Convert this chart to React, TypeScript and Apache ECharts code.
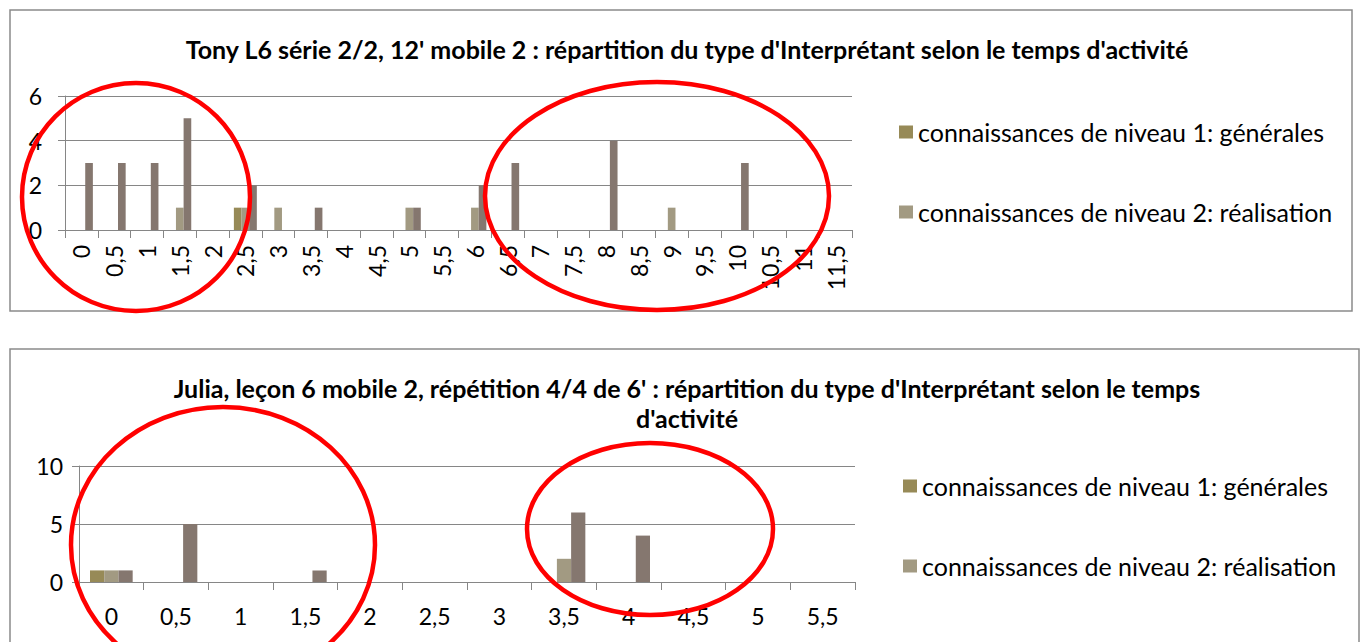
import React, { useEffect, useRef } from "react";
import * as echarts from "echarts";

const tonyCategories = ["0", "0,5", "1", "1,5", "2", "2,5", "3", "3,5", "4", "4,5", "5", "5,5", "6", "6,5", "7", "7,5", "8", "8,5", "9", "9,5", "10", "10,5", "11", "11,5"];
const tonyNiveau1 = [0, 0, 0, 0, 0, 1, 0, 0, 0, 0, 0, 0, 0, 0, 0, 0, 0, 0, 0, 0, 0, 0, 0, 0];
const tonyNiveau2 = [0, 0, 0, 1, 0, 1, 1, 0, 0, 0, 1, 0, 1, 0, 0, 0, 0, 0, 1, 0, 0, 0, 0, 0];
const tonyNiveau3 = [3, 3, 3, 5, 0, 2, 0, 1, 0, 0, 1, 0, 2, 3, 0, 0, 4, 0, 0, 0, 3, 0, 0, 0];

const juliaCategories = ["0", "0,5", "1", "1,5", "2", "2,5", "3", "3,5", "4", "4,5", "5", "5,5"];
const juliaNiveau1 = [1, 0, 0, 0, 0, 0, 0, 0, 0, 0, 0, 0];
const juliaNiveau2 = [1, 0, 0, 0, 0, 0, 0, 2, 0, 0, 0, 0];
const juliaNiveau3 = [1, 5, 0, 1, 0, 0, 0, 6, 4, 0, 0, 0];

const seriesNames = [
  "connaissances de niveau 1: générales",
  "connaissances de niveau 2: réalisation",
  "connaissances de niveau 3",
];
const seriesColors = ["#978A57", "#A29A82", "#85776F"];

const titleTony = "Tony L6 série 2/2, 12' mobile 2 : répartition du type d'Interprétant selon le temps d'activité";
const titleJulia = "Julia, leçon 6 mobile 2, répétition 4/4 de 6' : répartition du type d'Interprétant selon le temps\nd'activité";

const FONT = "Lato, 'Open Sans', sans-serif";
const GRAY = "#868686";

export default function App() {
  const ref = useRef<HTMLDivElement>(null);
  useEffect(() => {
    if (!ref.current) return;
    const chart = echarts.init(ref.current, null, { renderer: "svg" });
    const axisCommonX = (idx: number, cats: string[], rotate: number, margin: number) => ({
      type: "category",
      gridIndex: idx,
      data: cats,
      boundaryGap: true,
      axisLine: { show: true, lineStyle: { color: GRAY, width: 1 } },
      axisTick: { show: true, length: 8, lineStyle: { color: GRAY }, interval: 0 },
      axisLabel: { interval: 0, rotate, margin, color: "#000", fontSize: 23, fontFamily: FONT },
      splitLine: { show: false },
    });
    const axisCommonY = (idx: number, max: number, interval: number, margin: number) => ({
      type: "value",
      gridIndex: idx,
      min: 0,
      max,
      interval,
      axisLine: { show: true, lineStyle: { color: GRAY, width: 1 } },
      axisTick: { show: true, length: 7, lineStyle: { color: GRAY } },
      axisLabel: { margin, color: "#000", fontSize: 23, fontFamily: FONT },
      splitLine: { show: true, lineStyle: { color: GRAY, width: 1.2 } },
    });
    const mkSeries = (axisIdx: number, datas: number[][], gap: string) =>
      datas.map((d, i) => ({
        name: seriesNames[i],
        type: "bar",
        xAxisIndex: axisIdx,
        yAxisIndex: axisIdx,
        data: d,
        barGap: "0%",
        barCategoryGap: gap,
        itemStyle: { color: seriesColors[i] },
      }));
    const legendCommon = (left: number, top: number) => ({
      orient: "vertical",
      left,
      top,
      data: [seriesNames[0], seriesNames[1]],
      icon: "rect",
      itemWidth: 14,
      itemHeight: 13,
      itemGap: 52,
      textStyle: { fontSize: 25, fontFamily: FONT, color: "#000", lineHeight: 28 },
      selectedMode: false,
    });
    const ellipse = (cx: number, cy: number, rx: number, ry: number) => ({
      type: "ellipse",
      shape: { cx, cy, rx, ry },
      style: { fill: "none", stroke: "#FF0000", lineWidth: 4.5 },
      z: 100,
      silent: true,
    });
    chart.setOption({
      animation: false,
      backgroundColor: "#fff",
      title: [
        {
          text: titleTony,
          left: 682,
          top: 31,
          textAlign: "center",
          textStyle: { fontSize: 25, fontWeight: "bold", fontFamily: FONT, color: "#000" },
        },
        {
          text: titleJulia,
          left: 682,
          top: 368,
          textAlign: "center",
          textStyle: { fontSize: 25, fontWeight: "bold", fontFamily: FONT, color: "#000", lineHeight: 30 },
        },
      ],
      legend: [legendCommon(894, 113), legendCommon(898, 467)],
      grid: [
        { left: 65, top: 96, width: 787, height: 134, containLabel: false },
        { left: 79, top: 466, width: 776, height: 116, containLabel: false },
      ],
      xAxis: [axisCommonX(0, tonyCategories, 90, 15), axisCommonX(1, juliaCategories, 0, 22)],
      yAxis: [axisCommonY(0, 6, 2, 23), axisCommonY(1, 10, 5, 16)],
      series: [
        ...mkSeries(0, [tonyNiveau1, tonyNiveau2, tonyNiveau3], "30%"),
        ...mkSeries(1, [juliaNiveau1, juliaNiveau2, juliaNiveau3], "34%"),
      ],
      graphic: [
        {
          type: "rect",
          shape: { x: 10, y: 10, width: 1342, height: 301 },
          style: { fill: "none", stroke: "#8A8A8A", lineWidth: 1.5 },
          z: 0,
          silent: true,
        },
        {
          type: "rect",
          shape: { x: 10, y: 349, width: 1349, height: 320 },
          style: { fill: "none", stroke: "#8A8A8A", lineWidth: 1.5 },
          z: 0,
          silent: true,
        },
        ellipse(136, 197, 114, 114),
        ellipse(657, 196, 172, 114),
        ellipse(223, 545, 152, 138),
        ellipse(650, 529, 123, 86),
      ],
    });
    return () => chart.dispose();
  }, []);
  return (
    <div
      ref={ref}
      style={{ position: "absolute", left: 0, top: 0, width: 1360, height: 642 }}
    />
  );
}
